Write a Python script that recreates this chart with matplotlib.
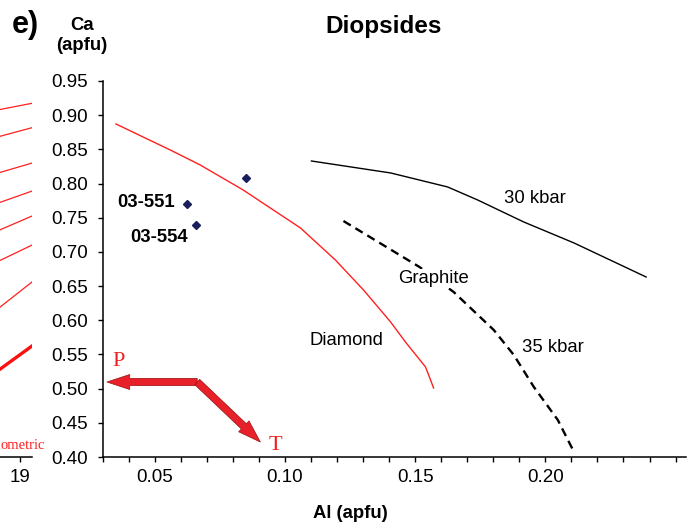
import matplotlib
matplotlib.use('Agg')
import matplotlib.pyplot as plt
from matplotlib.ticker import MultipleLocator, FixedLocator

plt.rcParams['font.family'] = ['Liberation Sans', 'DejaVu Sans']

# diamond / graphite boundary (red)
dia_x = [0.0352, 0.0560, 0.0675, 0.0840, 0.1060, 0.1194, 0.1302, 0.1406,
         0.1463, 0.1540, 0.1552, 0.1571]
dia_y = [0.8871, 0.8491, 0.8272, 0.7906, 0.7350, 0.6882, 0.6443, 0.5975,
         0.5682, 0.5317, 0.5200, 0.5009]

# 30 kbar isobar
k30_x = [0.1102, 0.1406, 0.1625, 0.1740, 0.1917, 0.2110, 0.2387]
k30_y = [0.8330, 0.8155, 0.7950, 0.7760, 0.7438, 0.7131, 0.6633]

# 35 kbar isobar (dashed)
k35_x = [0.1225, 0.1517, 0.1648, 0.1802, 0.1879, 0.1956, 0.2048, 0.2110]
k35_y = [0.7452, 0.6779, 0.6414, 0.5858, 0.5492, 0.5024, 0.4541, 0.4073]

# diopside analyses
cpx_al = [0.0626, 0.0660, 0.0852]
cpx_ca = [0.7701, 0.7394, 0.8081]

# neighbouring panel (only its right edge shows)
left_x = [18.62, 19.2]
left_lines = [(0.9075, 0.9174), (0.8680, 0.8817), (0.8150, 0.8300),
              (0.7710, 0.7890), (0.7305, 0.7525), (0.6855, 0.7100),
              (0.6160, 0.6560)]
left_thick = (0.5255, 0.5624)

fig = plt.figure(figsize=(6.9, 5.27), dpi=100)
W, H = 690.0, 527.0

# --- left (cut off) panel
ax0 = fig.add_axes([-100 / W, 70 / H, 132 / W, 376 / H])
for y0, y1 in left_lines:
    ax0.plot(left_x, [y0, y1], color='#ff2020', lw=0.9)
ax0.plot(left_x, list(left_thick), color='#ff1010', lw=2.4)
ax0.set_xlim(17, 19.2)
ax0.set_ylim(0.40, 0.95)
for s in ['top', 'right', 'left']:
    ax0.spines[s].set_visible(False)
ax0.spines['bottom'].set_linewidth(1.1)
ax0.set_yticks([])
ax0.set_xticks([19])
ax0.set_xticklabels(['19'])
ax0.tick_params(axis='x', direction='out', length=3.6, width=1, labelsize=13.5, pad=5)
fig.text(0.5 / W, 1 - 449 / H, 'ometric', color='#ff2020',
         family='Liberation Serif', fontsize=10.5, ha='left', va='baseline')

# --- main panel
ax = fig.add_axes([102.5 / W, 70 / H, 583.5 / W, 376 / H])
ax.plot(dia_x, dia_y, color='#ff2020', lw=1.0)
ax.plot(k30_x, k30_y, color='black', lw=1.0)
ax.plot(k35_x, k35_y, color='black', lw=1.7, dashes=(3.6, 2.3))
ax.plot(cpx_al, cpx_ca, 'D', color='#1a1f5c', ms=4.2, mec='#1a1f5c')

ax.set_xlim(0.03, 0.254)
ax.set_ylim(0.40, 0.95)
ax.spines['top'].set_visible(False)
ax.spines['right'].set_visible(False)
ax.spines['left'].set_linewidth(1.1)
ax.spines['bottom'].set_linewidth(1.1)

ax.xaxis.set_major_locator(FixedLocator([0.05, 0.10, 0.15, 0.20]))
ax.xaxis.set_minor_locator(MultipleLocator(0.01))
ax.set_xticklabels(['0.05', '0.10', '0.15', '0.20'])
ax.yaxis.set_major_locator(MultipleLocator(0.05))
ax.yaxis.set_major_formatter(matplotlib.ticker.FormatStrFormatter('%.2f'))
ax.tick_params(which='both', direction='out', length=3.6, width=1)
ax.tick_params(axis='x', labelsize=13.5, pad=5)
ax.tick_params(axis='y', labelsize=13.5, pad=7)

lab = dict(fontsize=13.3, va='center')
ax.text(0.0579, 0.773, '03-551', ha='right', fontweight='bold', **lab)
ax.text(0.0629, 0.7218, '03-554', ha='right', fontweight='bold', **lab)
ax.text(0.1840, 0.7774, '30 kbar', ha='left', **lab)
ax.text(0.1433, 0.6611, 'Graphite', ha='left',
        bbox=dict(fc='white', ec='none', pad=1), **lab)
ax.text(0.1094, 0.5697, 'Diamond', ha='left', **lab)
ax.text(0.1910, 0.5609, '35 kbar', ha='left', **lab)

# P-T arrows
start = (0.06635, 0.5097)
arrow = dict(arrowstyle='simple,head_width=0.54,head_length=0.82,tail_width=0.26',
             fc='#e8202a', ec='#9a1010', lw=0.5, mutation_scale=20,
             shrinkA=0, shrinkB=0)
ax.annotate('', xy=(0.0317, 0.5097), xytext=start, arrowprops=arrow)
ax.annotate('', xy=(0.0906, 0.4219), xytext=start, arrowprops=arrow)
ax.text(0.0361, 0.5395, 'P', color='#ee2020', family='Liberation Serif',
        fontsize=16, ha='center', va='center')
ax.text(0.0962, 0.4175, 'T', color='#ee2020', family='Liberation Serif',
        fontsize=16, ha='center', va='center')

# titles / axis captions
fig.text(384 / W, 1 - 33 / H, 'Diopsides', fontsize=17.5, fontweight='bold',
         ha='center', va='baseline')
fig.text(12 / W, 1 - 33 / H, 'e)', fontsize=22, fontweight='bold',
         ha='left', va='baseline')
fig.text(82 / W, 1 - 30 / H, 'Ca', fontsize=13.3, fontweight='bold',
         ha='center', va='baseline')
fig.text(82 / W, 1 - 49.5 / H, '(apfu)', fontsize=13.3, fontweight='bold',
         ha='center', va='baseline')
fig.text(350 / W, 1 - 513 / H, 'Al (apfu)', fontsize=13.3, fontweight='bold',
         ha='center', va='center')

fig.savefig('out.png', dpi=100)
